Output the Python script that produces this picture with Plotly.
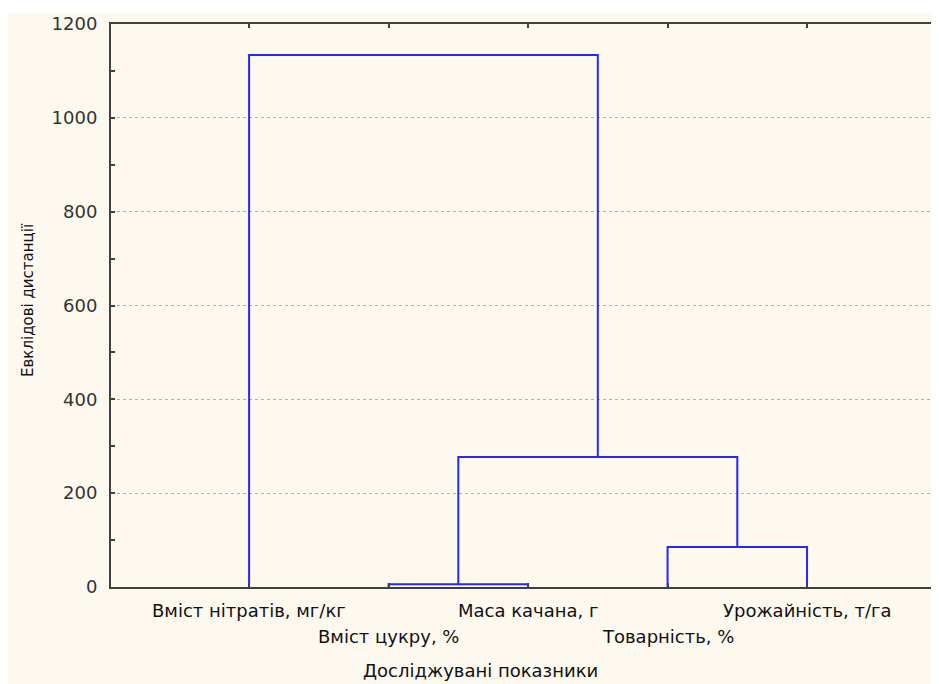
import plotly.graph_objects as go

# ---- data ----
leaf_labels = ["Вміст нітратів, мг/кг", "Вміст цукру, %", "Маса качана, г",
               "Товарність, %", "Урожайність, т/га"]
leaf_pos = [1, 2, 3, 4, 5]
# merges: (left child, right child, height); children: leaf index or "mK" for merge K
merges = [
    (1, 2, 6),          # m0: цукру + маса
    (3, 4, 85),         # m1: товарність + урожайність
    ("m0", "m1", 277),  # m2
    (0, "m2", 1134),    # m3
]
y_tickvals = [0, 200, 400, 600, 800, 1000, 1200]
x_title = "Досліджувані показники"
y_title = "Евклідові дистанції"

BLUE = "#2626ff"
AX = "#404040"
CREAM = "#fdf9ef"
FONT = "DejaVu Sans, Verdana, sans-serif"

fig = go.Figure()

# compute dendrogram U-shapes
node_x = {}
node_h = {}
for i, p in enumerate(leaf_pos):
    node_x[i] = p
    node_h[i] = 0
for k, (a, b, h) in enumerate(merges):
    xa, xb = node_x[a], node_x[b]
    ha, hb = node_h[a], node_h[b]
    fig.add_trace(go.Scatter(
        x=[xa, xa, xb, xb], y=[ha, h, h, hb], mode="lines",
        line=dict(color=BLUE, width=2), hoverinfo="skip", showlegend=False))
    node_x["m%d" % k] = (xa + xb) / 2
    node_h["m%d" % k] = h

# geometry (figure pixels; page has 8px body margin)
OFF = 8
W, H = 939 - OFF, 684 - OFF
L, R, T = 111 - OFF, 0, 24 - OFF
B = H - (587 - OFF)
pw, ph = W - L - R, H - T - B


def px_x(x):  # page pixel -> paper
    return (x - OFF - L) / pw


def px_y(y):  # page pixel -> paper
    return (H - B - (y - OFF)) / ph


# cream background area
fig.add_shape(type="rect", xref="paper", yref="paper",
              x0=px_x(0), x1=px_x(960), y0=px_y(700), y1=px_y(13),
              fillcolor=CREAM, line=dict(width=0), layer="below")

# leaf labels (alternating rows)
for i, (p, lab) in enumerate(zip(leaf_pos, leaf_labels)):
    row_y = 610 if i % 2 == 0 else 636
    fig.add_annotation(x=p, xref="x", y=px_y(row_y), yref="paper",
                       text=lab, showarrow=False, xanchor="center", yanchor="middle",
                       font=dict(family=FONT, size=18, color="#111"))

fig.add_annotation(x=px_x(480), xref="paper", y=px_y(670), yref="paper",
                   text=x_title, showarrow=False, xanchor="center", yanchor="middle",
                   font=dict(family=FONT, size=18, color="#111"))
fig.add_annotation(x=px_x(28), xref="paper", y=px_y(300), yref="paper",
                   text=y_title, textangle=-90, showarrow=False,
                   xanchor="center", yanchor="middle",
                   font=dict(family=FONT, size=15, color="#111"))

fig.update_layout(
    width=W, height=H,
    margin=dict(l=L, r=R, t=T, b=B),
    paper_bgcolor="white", plot_bgcolor="white",
    showlegend=False,
    font=dict(family=FONT, color="#222"),
    xaxis=dict(range=[0.01, 5.946], tickvals=leaf_pos, showticklabels=False,
               ticks="inside", ticklen=4, tickcolor=AX, tickwidth=1.5,
               showline=True, linecolor=AX, linewidth=2, mirror="ticks",
               showgrid=False, zeroline=False, fixedrange=True),
    yaxis=dict(range=[0, 1200], tickvals=y_tickvals,
               ticktext=[str(v) for v in y_tickvals],
               ticks="inside", ticklen=4, tickcolor=AX, tickwidth=1.5,
               minor=dict(dtick=100, ticks="inside", ticklen=4, tickcolor=AX, showgrid=False),
               showline=True, linecolor=AX, linewidth=2, mirror=False,
               showgrid=True, gridcolor="#b0b0b0", griddash="dot", gridwidth=1,
               zeroline=False, ticklabelstandoff=8,
               tickfont=dict(family=FONT, size=18, color="#333")),
)

fig.write_html("out.html")
